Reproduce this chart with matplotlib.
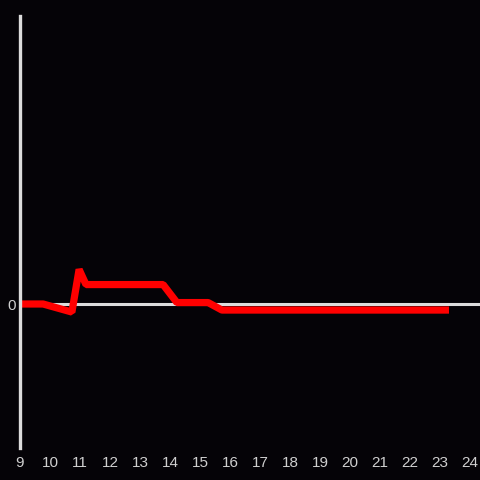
import matplotlib

matplotlib.use("Agg")
import matplotlib.pyplot as plt

# series
hours = [9.0, 9.77, 10.73, 10.97, 11.2, 13.77, 14.23, 15.27, 15.73, 23.3]
values = [0.0, 0.0, -0.056, 0.24, 0.135, 0.135, 0.01, 0.01, -0.042, -0.042]
x_ticks = list(range(9, 25))

BG = "#050307"
AXIS = "#dcdcdc"
TEXT = "#cfcfcf"

plt.rcParams["font.family"] = ["Liberation Sans", "DejaVu Sans"]

fig = plt.figure(figsize=(4.8, 4.8), dpi=100, facecolor=BG)
ax = fig.add_axes([20 / 480, 32 / 480, 460 / 480, 432 / 480])
ax.set_facecolor(BG)

ax.set_xlim(9, 9 + 460 / 30)
ax.set_ylim(-1, 2)

ax.axhline(0, color=AXIS, linewidth=2.2, zorder=1)
ax.plot(hours, values, color="#ff0000", linewidth=5.2, solid_joinstyle="bevel",
        solid_capstyle="butt", zorder=2)

for s in ("top", "right", "bottom"):
    ax.spines[s].set_visible(False)
ax.spines["left"].set_color(AXIS)
ax.spines["left"].set_linewidth(2.4)

ax.set_xticks(x_ticks)
ax.set_xticklabels([str(t) for t in x_ticks])
ax.set_yticks([0])
ax.set_yticklabels(["0"])
ax.tick_params(axis="both", length=0, colors=TEXT, labelsize=11)
ax.tick_params(axis="x", pad=6)
ax.tick_params(axis="y", pad=3)

fig.savefig("out.png", dpi=100, facecolor=BG)
